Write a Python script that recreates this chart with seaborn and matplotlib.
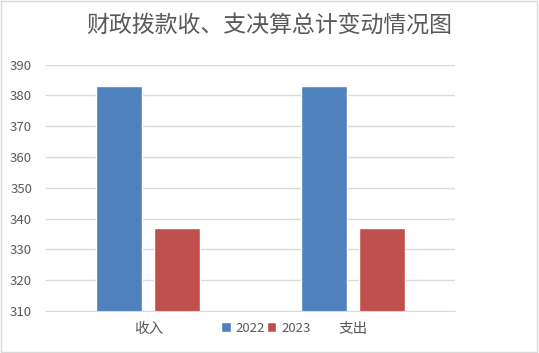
import matplotlib
matplotlib.use("Agg")
import matplotlib.pyplot as plt
import pandas as pd
import seaborn as sns
from matplotlib.patches import Rectangle

categories = ['收入', '支出']
years = ['2022', '2023']
values_2022 = [383.1, 383.1]
values_2023 = [336.8, 336.8]
yticks = [310, 320, 330, 340, 350, 360, 370, 380, 390]

df = pd.DataFrame({
    'cat': categories * 2,
    'year': [years[0]] * 2 + [years[1]] * 2,
    'val': values_2022 + values_2023,
})

sns.set_style('white')
plt.rcParams['font.family'] = ['Noto Sans CJK SC', 'DejaVu Sans']

fig = plt.figure(figsize=(5.39, 3.53), dpi=100)
ax = fig.add_axes([0.0853, 0.119, 0.759, 0.698])

sns.barplot(data=df, x='cat', y='val', hue='year', order=categories,
            hue_order=years, palette=['#4F81BD', '#C0504D'],
            width=0.566, gap=0.207, saturation=1, ax=ax, legend=True)

ax.set_ylim(310, 390)
ax.set_yticks(yticks)
ax.set_xlim(-0.5, 1.5)
ax.yaxis.grid(True, color='#d9d9d9', linewidth=1)
ax.set_axisbelow(True)
for s in ['top', 'right', 'left']:
    ax.spines[s].set_visible(False)
ax.spines['bottom'].set_color('#d9d9d9')
ax.tick_params(axis='both', length=0, colors='#595959', labelsize=9.5)
ax.tick_params(axis='y', pad=10)
ax.tick_params(axis='x', pad=8, labelsize=10.5)
ax.set_xlabel('')
ax.set_ylabel('')

handles, labels = ax.get_legend_handles_labels()
ax.get_legend().remove()
fig.legend(handles, labels, loc='center', bbox_to_anchor=(266 / 539, 1 - 328 / 353),
           ncol=2, frameon=False, fontsize=9.5, handlelength=0.7, handleheight=0.7,
           handletextpad=0.4, columnspacing=0.1, labelcolor='#595959')

fig.text(0.5, 1 - 25 / 353, '财政拨款收、支决算总计变动情况图', ha='center', va='center',
         fontsize=16.5, color='#595959')

fig.patches.append(Rectangle((0.002, 0.004), 0.994, 0.992, transform=fig.transFigure,
                             fill=False, edgecolor='#d9d9d9', linewidth=1))

plt.savefig('out.png', dpi=100)
